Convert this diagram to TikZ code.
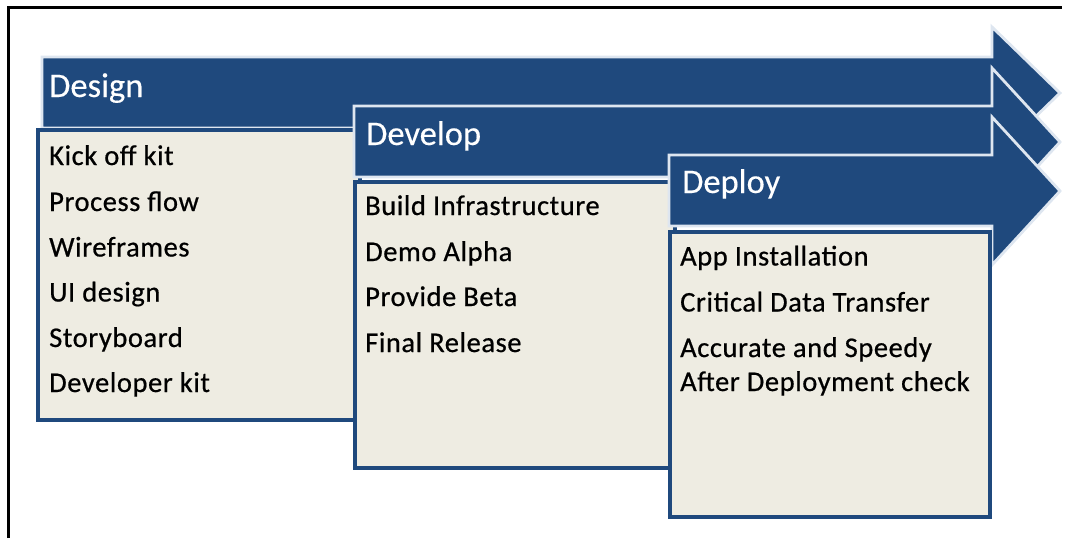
\documentclass[tikz,border=0pt]{standalone}
\usepackage{fontspec}
\setmainfont{Carlito}
\definecolor{navy}{RGB}{31,73,125}
\definecolor{beige}{RGB}{238,236,226}
\definecolor{rim}{RGB}{222,230,240}
\tikzset{
  arrowshape/.style={fill=navy, draw=rim, line width=2.8pt, line join=miter},
  listbox/.style={fill=beige, draw=navy, line width=3.8pt, inner sep=0pt, outer sep=0pt, anchor=north west},
  headtext/.style={text=white, font=\fontsize{34.5}{40}\selectfont\addfontfeatures{FakeBold=0.3}, anchor=base west, inner sep=0pt},
  itemtext/.style={font=\fontsize{28.5}{33}\selectfont\addfontfeatures{LetterSpace=2,FakeBold=0.6}, anchor=base west, inner sep=0pt, text=black},
}
\begin{document}
\begin{tikzpicture}[x=1pt,y=-1pt]
\useasboundingbox (0,0) rectangle (1067,538);
% frame
\draw[black, line width=3pt] (8.5,538) -- (8.5,7.5) -- (1062,7.5);
% Design
\path[arrowshape] (42,57) -- (992,57) -- (992,27) -- (1060,93) -- (992,159) -- (992,128) -- (42,128) -- cycle;
\node[headtext] (h1) at (49,97) {Design};
\node[listbox, minimum width=322pt, minimum height=290pt] (b1) at (38,130) {};
\node[itemtext] (d1) at (49,165) {Kick off kit};
\node[itemtext] (d2) at (49,211) {Process flow};
\node[itemtext] (d3) at (49,256.5) {Wireframes};
\node[itemtext] (d4) at (49,301.5) {UI design};
\node[itemtext] (d5) at (49,347) {Storyboard};
\node[itemtext] (d6) at (49,392) {Developer kit};
% Develop
\path[arrowshape] (354,106) -- (992,106) -- (992,68) -- (1060,142) -- (992,216) -- (992,177) -- (354,177) -- cycle;
\node[headtext] (h2) at (366,145) {Develop};
\node[listbox, minimum width=320pt, minimum height=286pt] (b2) at (355,182) {};
\node[itemtext] (v1) at (365,215) {Build Infrastructure};
\node[itemtext] (v2) at (365,261) {Demo Alpha};
\node[itemtext] (v3) at (365,306) {Provide Beta};
\node[itemtext] (v4) at (365,352) {Final Release};
% Deploy
\path[arrowshape] (669,155) -- (992,155) -- (992,117) -- (1060,191) -- (992,265) -- (992,226) -- (669,226) -- cycle;
\node[headtext] (h3) at (682,193) {Deploy};
\node[listbox, minimum width=320pt, minimum height=285pt] (b3) at (670,232) {};
\node[itemtext] (p1) at (680,265.5) {App Installation};
\node[itemtext] (p2) at (680,311.5) {Critical Data Transfer};
\node[itemtext] (p3) at (680,357) {Accurate and Speedy};
\node[itemtext] (p4) at (680,391) {After Deployment check};
\end{tikzpicture}
\end{document}
